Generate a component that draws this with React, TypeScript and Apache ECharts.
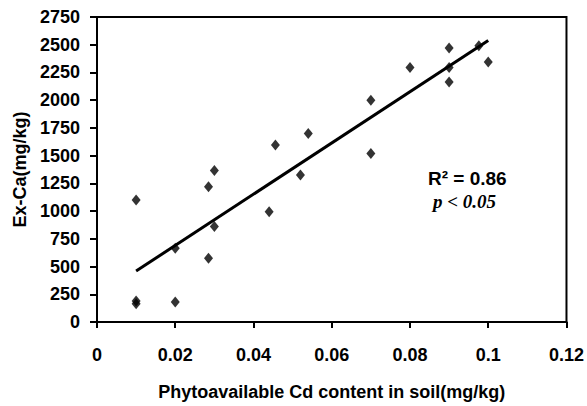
import React, { useEffect, useRef } from "react";
import * as echarts from "echarts";

const cdContent: number[] = [0.01, 0.01, 0.01, 0.02, 0.02, 0.0285, 0.0285, 0.03, 0.03, 0.044, 0.0456, 0.052, 0.054, 0.07, 0.07, 0.08, 0.09, 0.09, 0.09, 0.0976, 0.1];
const exCa: number[] = [1100, 190, 165, 180, 665, 1220, 575, 860, 1365, 995, 1595, 1325, 1700, 2000, 1520, 2295, 2470, 2295, 2165, 2490, 2345];
const xTicks: number[] = [0, 0.02, 0.04, 0.06, 0.08, 0.1, 0.12];
const yTicks: number[] = [0, 250, 500, 750, 1000, 1250, 1500, 1750, 2000, 2250, 2500, 2750];
const rSquaredText = "R² = 0.86";
const pText = "p < 0.05";

function fitLine(xs: number[], ys: number[]): number[][] {
  const n = xs.length;
  const mx = xs.reduce((a, b) => a + b, 0) / n;
  const my = ys.reduce((a, b) => a + b, 0) / n;
  let sxy = 0, sxx = 0;
  for (let i = 0; i < n; i++) {
    sxy += (xs[i] - mx) * (ys[i] - my);
    sxx += (xs[i] - mx) * (xs[i] - mx);
  }
  const b = sxy / sxx;
  const a = my - b * mx;
  const x0 = Math.min(...xs);
  const x1 = Math.max(...xs);
  return [[x0, a + b * x0], [x1, a + b * x1]];
}

export default function App() {
  const ref = useRef<HTMLDivElement>(null);
  useEffect(() => {
    if (!ref.current) return;
    const chart = echarts.init(ref.current, undefined, { renderer: "svg" });
    const font = "Liberation Sans, Arial, sans-serif";
    chart.setOption({
      animation: false,
      backgroundColor: "#fff",
      grid: {
        left: 97, top: 17, right: 19, bottom: 84,
        show: true, borderColor: "#000", borderWidth: 2, backgroundColor: "transparent",
      },
      xAxis: {
        type: "value",
        min: xTicks[0], max: xTicks[xTicks.length - 1], interval: 0.02,
        name: "Phytoavailable Cd content in soil(mg/kg)",
        nameLocation: "middle", nameGap: 61,
        nameTextStyle: { fontFamily: font, fontWeight: "bold", fontSize: 18, color: "#000" },
        axisLine: { show: true, lineStyle: { color: "#000", width: 2 } },
        axisTick: { show: true, inside: false, length: 6, lineStyle: { color: "#000", width: 2 } },
        axisLabel: {
          margin: 24, fontFamily: font, fontWeight: "bold", fontSize: 18, color: "#000",
          formatter: (v: number) => String(+v.toFixed(2)),
        },
        splitLine: { show: false },
      },
      yAxis: {
        type: "value",
        min: yTicks[0], max: yTicks[yTicks.length - 1], interval: 250,
        name: "Ex-Ca(mg/kg)",
        nameLocation: "middle", nameGap: 66, nameRotate: 90,
        nameTextStyle: { fontFamily: font, fontWeight: "bold", fontSize: 18, color: "#000" },
        axisLine: { show: true, lineStyle: { color: "#000", width: 2 } },
        axisTick: { show: true, inside: false, length: 7, lineStyle: { color: "#000", width: 2 } },
        axisLabel: {
          margin: 17, fontFamily: font, fontWeight: "bold", fontSize: 18, color: "#000",
          formatter: (v: number) => String(v),
        },
        splitLine: { show: false },
      },
      series: [
        {
          type: "scatter",
          data: cdContent.map((x, i) => [x, exCa[i]]),
          symbol: "diamond",
          symbolSize: [9, 11],
          itemStyle: { color: "#000" },
          z: 3,
        },
        {
          type: "line",
          data: fitLine(cdContent, exCa),
          symbol: "none",
          lineStyle: { color: "#000", width: 3 },
          z: 2,
        },
      ],
      graphic: [
        {
          type: "text", left: 428, top: 169,
          style: { text: rSquaredText, font: `bold 19px ${font}`, fill: "#000" },
        },
        {
          type: "text", left: 433, top: 192,
          style: { text: pText, font: `italic bold 19px Liberation Serif, Times New Roman, serif`, fill: "#000" },
        },
      ],
    });
    return () => chart.dispose();
  }, []);
  return <div ref={ref} style={{ position: "fixed", left: 0, top: 0, width: 587, height: 406 }} />;
}
